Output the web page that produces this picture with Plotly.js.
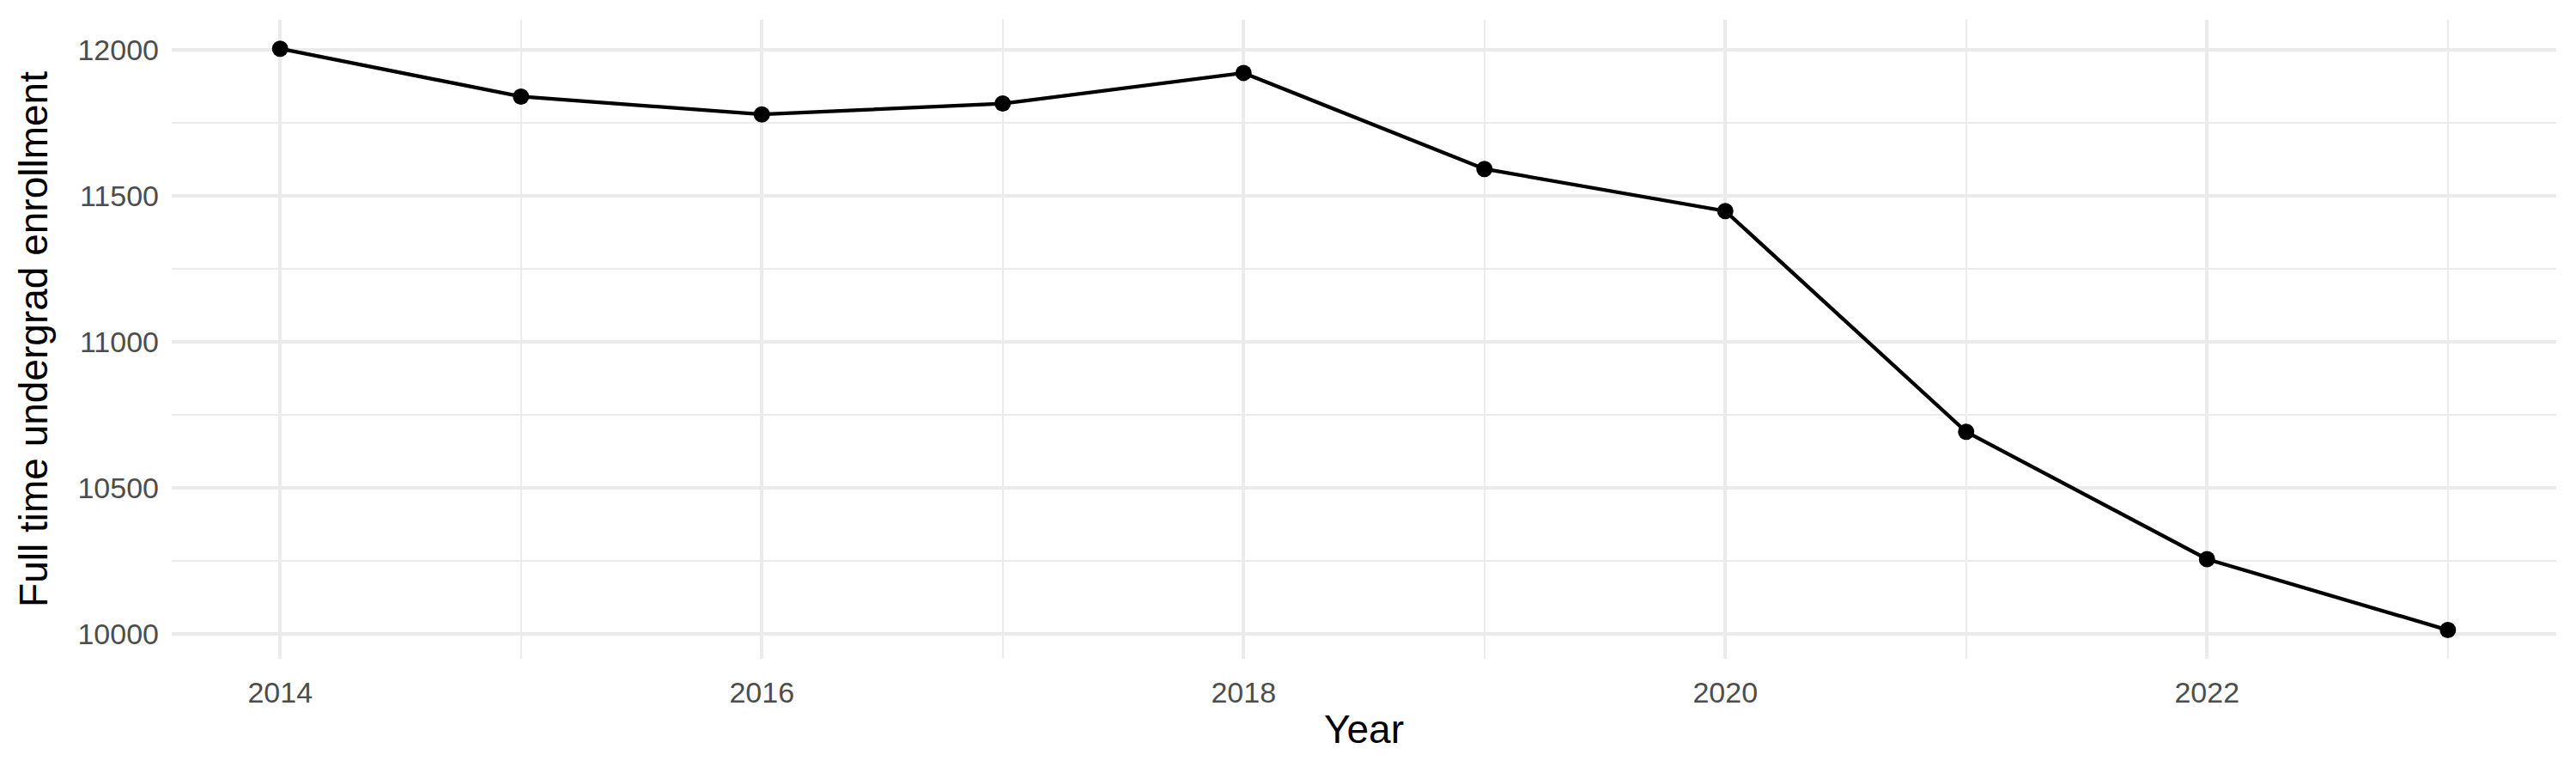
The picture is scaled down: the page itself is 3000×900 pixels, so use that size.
<!DOCTYPE html>
<html>
<head>
<meta charset="utf-8">
<script src="https://cdn.plot.ly/plotly-3.0.1.min.js"></script>
<style>
  html, body { margin: 0; padding: 0; background: #ffffff; }
  #plot { width: 3000px; height: 900px; }
</style>
</head>
<body>
<div id="plot"></div>
<script>
// full time undergrad enrollment by year
let years = [2014, 2015, 2016, 2017, 2018, 2019, 2020, 2021, 2022, 2023];
let enrollment = [12004, 11840, 11779, 11816, 11921, 11592, 11448, 10692, 10256, 10013];

let xTicks = [2014, 2016, 2018, 2020, 2022];
let yTicks = [10000, 10500, 11000, 11500, 12000];

let gridMajor = '#ebebeb';
let fontFamily = '"Liberation Sans", Arial, sans-serif';

var trace = {
    type: 'scatter',
    mode: 'lines+markers',
    x: years,
    y: enrollment,
    line: {color: '#000000', width: 4.3},
    marker: {color: '#000000', size: 19},
    showlegend: false,
    hoverinfo: 'x+y',
};

var layout = {
    width: 3000,
    height: 900,
    paper_bgcolor: '#ffffff',
    plot_bgcolor: '#ffffff',
    margin: {l: 200, r: 23, t: 23, b: 133},
    font: {family: fontFamily, color: '#000000'},
    xaxis: {
        range: [2013.55, 2023.45],
        tickmode: 'array',
        tickvals: xTicks,
        ticktext: xTicks.map(String),
        ticks: '',
        showline: false,
        zeroline: false,
        showgrid: true,
        gridcolor: gridMajor,
        gridwidth: 4,
        minor: {tickmode: 'array', tickvals: [2015, 2017, 2019, 2021, 2023], showgrid: true, gridcolor: gridMajor, gridwidth: 2},
        tickfont: {size: 34, color: '#4d4d4d', family: fontFamily},
        ticklabelstandoff: 16,
        title: {text: 'Year', font: {size: 46, color: '#000000', family: fontFamily}, standoff: 8},
        automargin: false,
    },
    yaxis: {
        range: [9914.7, 12103],
        tickmode: 'array',
        tickvals: yTicks,
        ticktext: yTicks.map(String),
        ticks: '',
        showline: false,
        zeroline: false,
        showgrid: true,
        gridcolor: gridMajor,
        gridwidth: 4,
        minor: {tickmode: 'array', tickvals: [10250, 10750, 11250, 11750], showgrid: true, gridcolor: gridMajor, gridwidth: 2},
        tickfont: {size: 34, color: '#4d4d4d', family: fontFamily},
        ticklabelstandoff: 14,
        title: {text: 'Full time undergrad enrollment', font: {size: 46, color: '#000000', family: fontFamily}, standoff: 20},
        automargin: false,
    },
    hovermode: false,
};

var config = {displayModeBar: false, responsive: false, staticPlot: true};
Plotly.newPlot('plot', [trace], layout, config);
</script>
</body>
</html>
